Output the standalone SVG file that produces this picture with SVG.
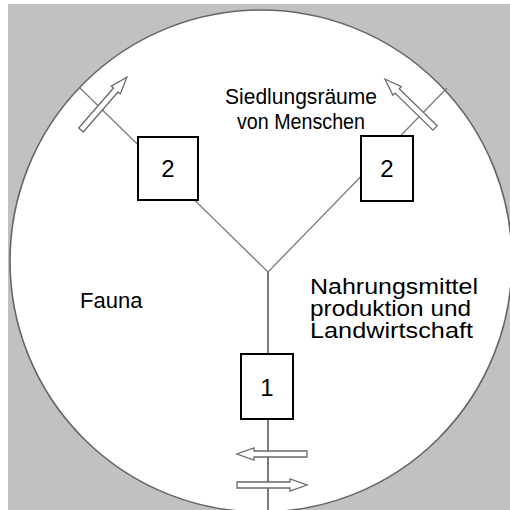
<svg xmlns="http://www.w3.org/2000/svg" width="510" height="510" viewBox="0 0 510 510">
<style>
.t{font-family:"Liberation Sans",Arial,sans-serif;font-size:22px;fill:#000}
.n{font-family:"Liberation Sans",Arial,sans-serif;font-size:24px;fill:#000;text-anchor:middle}
.box{fill:#fff;stroke:#000;stroke-width:2}
.ln{stroke:#7a7a7a;stroke-width:1.2;fill:none}
.arr{fill:#fff;stroke:#6a6a6a;stroke-width:1.3}
</style>
<defs>
<path id="ha" d="M0,-3 L53,-3 L53,-6 L70,0 L53,6 L53,3 L0,3 Z"/>
</defs>
<rect x="0" y="0" width="510" height="510" fill="#fff"/>
<rect x="8" y="4" width="502" height="506" fill="#c1c1c1"/>
<circle cx="261" cy="261" r="251" fill="#fff" stroke="#666" stroke-width="1.6"/>
<g id="connectors">
<line class="ln" x1="80" y1="88" x2="268" y2="272"/>
<line class="ln" x1="447" y1="88" x2="268" y2="272"/>
<line x1="268" y1="272" x2="268" y2="512" stroke="#333" stroke-width="1.3"/>
<use href="#ha" class="arr" transform="translate(81,130) rotate(-49)"/>
<use href="#ha" class="arr" transform="translate(435,128) rotate(-135.6)"/>
<use href="#ha" class="arr" transform="translate(307,454) rotate(180)"/>
<use href="#ha" class="arr" transform="translate(237,485)"/>
</g>
<g id="node-2-left">
<rect class="box" x="138" y="137" width="60" height="63"/>
<text class="n" x="168" y="177">2</text>
</g>
<g id="node-2-right">
<rect class="box" x="361" y="136" width="52" height="65"/>
<text class="n" x="387" y="177">2</text>
</g>
<g id="node-1">
<rect class="box" x="241" y="354" width="52" height="65"/>
<text class="n" x="267" y="396">1</text>
</g>
<g id="labels">
<text class="t" x="225" y="104" textLength="152" lengthAdjust="spacingAndGlyphs">Siedlungsräume</text>
<text class="t" x="237" y="129" textLength="128" lengthAdjust="spacingAndGlyphs">von Menschen</text>
<text class="t" x="80" y="308">Fauna</text>
<text class="t" x="310" y="294" textLength="168" lengthAdjust="spacingAndGlyphs">Nahrungsmittel</text>
<text class="t" x="310" y="316" textLength="161" lengthAdjust="spacingAndGlyphs">produktion und</text>
<text class="t" x="310" y="338" textLength="163" lengthAdjust="spacingAndGlyphs">Landwirtschaft</text>
</g>
</svg>
